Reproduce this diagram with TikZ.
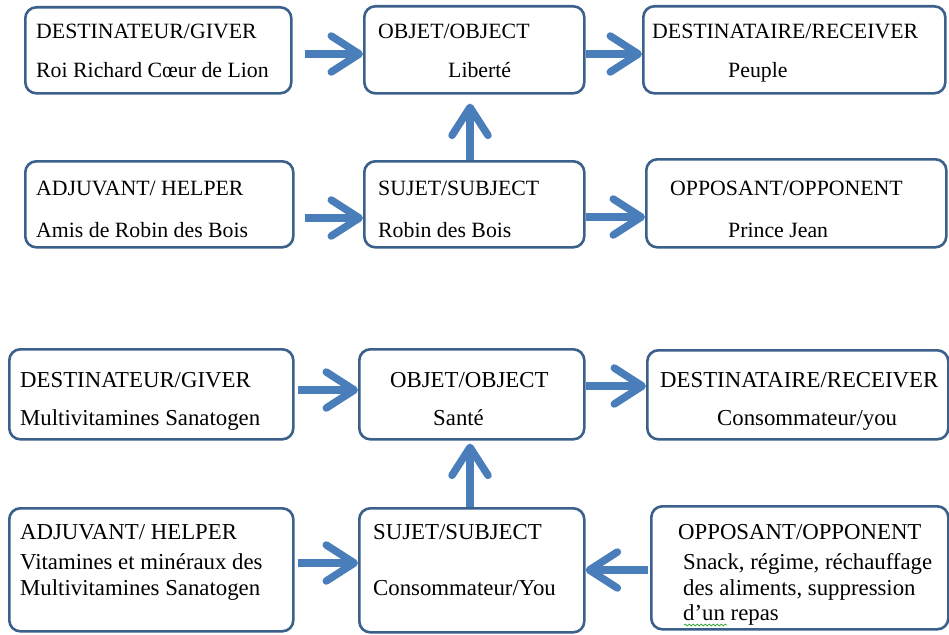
\documentclass[tikz,border=0pt]{standalone}
\usepackage{fontspec}
\setmainfont{Liberation Serif}
\usetikzlibrary{arrows.meta,decorations.pathmorphing}
\definecolor{boxline}{RGB}{60,96,140}
\definecolor{arrowblue}{RGB}{74,126,187}
\definecolor{squig}{RGB}{60,170,60}
\tikzset{
  box/.style={draw=boxline, line width=2.6pt, rounded corners=11pt, anchor=north west, inner sep=0pt, fill=white},
  arr/.style={draw=arrowblue, line width=7.5pt, -{Straight Barb[length=28pt,width=36pt,round]}},
  ta/.style={anchor=base west, inner sep=0pt, font=\fontsize{21.8}{24}\selectfont},
  tb/.style={anchor=base west, inner sep=0pt, font=\fontsize{22.8}{26}\selectfont},
}
\begin{document}
\begin{tikzpicture}[x=1pt,y=-1pt]
\useasboundingbox (0,0) rectangle (949,634);
% ---------- top diagram ----------
\node[box, minimum width=266pt, minimum height=86pt] (g1) at (24,6) {};
\node[box, minimum width=220pt, minimum height=87pt] (o1) at (363,5) {};
\node[box, minimum width=302pt, minimum height=87pt] (r1) at (642,5) {};
\node[box, minimum width=268pt, minimum height=86pt] (h1) at (24,160) {};
\node[box, minimum width=220pt, minimum height=86pt] (s1) at (363,160) {};
\node[box, minimum width=300pt, minimum height=88pt] (p1) at (645,158) {};

\node[ta] (g1a) at (36,38) {DESTINATEUR/GIVER};
\node[ta] (g1b) at (36,77) {Roi Richard Cœur de Lion};
\node[ta] (o1a) at (378,38) {OBJET/OBJECT};
\node[ta] (o1b) at (448,77) {Liberté};
\node[ta] (r1a) at (652,38) {DESTINATAIRE/RECEIVER};
\node[ta] (r1b) at (728,77) {Peuple};
\node[ta] (h1a) at (36,195) {ADJUVANT/ HELPER};
\node[ta] (h1b) at (36,237) {Amis de Robin des Bois};
\node[ta] (s1a) at (378,195) {SUJET/SUBJECT};
\node[ta] (s1b) at (378,237) {Robin des Bois};
\node[ta] (p1a) at (670,195) {OPPOSANT/OPPONENT};
\node[ta] (p1b) at (728,237) {Prince Jean};

\draw[arr] ([xshift=12pt]g1.east |- 0,54) -- (o1.west |- 0,54);
\draw[arr] (o1.east |- 0,54) -- (r1.west |- 0,54);
\draw[arr] ([xshift=10pt]h1.east |- 0,218) -- (s1.west |- 0,218);
\draw[arr] (s1.east |- 0,217) -- (p1.west |- 0,217);
\draw[arr] (s1.north -| 470,0) -- ([yshift=-9pt]o1.south -| 470,0);

% ---------- bottom diagram ----------
\node[box, minimum width=284pt, minimum height=90pt] (g2) at (8,348) {};
\node[box, minimum width=225pt, minimum height=90pt] (o2) at (358,348) {};
\node[box, minimum width=301pt, minimum height=89pt] (r2) at (646,349) {};
\node[box, minimum width=284pt, minimum height=123pt] (h2) at (8,507) {};
\node[box, minimum width=225pt, minimum height=124pt] (s2) at (358,507) {};
\node[box, minimum width=297pt, minimum height=123pt] (p2) at (650,505) {};

\node[tb] (g2a) at (20,387) {DESTINATEUR/GIVER};
\node[tb] (g2b) at (20,425) {Multivitamines Sanatogen};
\node[tb] (o2a) at (390,387) {OBJET/OBJECT};
\node[tb] (o2b) at (433,425) {Santé};
\node[tb] (r2a) at (660,387) {DESTINATAIRE/RECEIVER};
\node[tb] (r2b) at (717,425) {Consommateur/you};
\node[tb] (h2a) at (20,539) {ADJUVANT/ HELPER};
\node[tb] (h2b) at (20,569) {Vitamines et minéraux des};
\node[tb] (h2c) at (20,595) {Multivitamines Sanatogen};
\node[tb] (s2a) at (373,539) {SUJET/SUBJECT};
\node[tb] (s2b) at (373,595) {Consommateur/You};
\node[tb] (p2a) at (678,539) {OPPOSANT/OPPONENT};
\node[tb] (p2b) at (683,569) {Snack, régime, réchauffage};
\node[tb] (p2c) at (683,595) {des aliments, suppression};
\node[tb] (p2d) at (683,620) {d’un repas};
\draw[squig, line width=0.8pt, decorate, decoration={snake, amplitude=0.9pt, segment length=4pt}] (684,625) -- (727,625);

\draw[arr] ([xshift=3pt]g2.east |- 0,390) -- (o2.west |- 0,390);
\draw[arr] (o2.east |- 0,386) -- (r2.west |- 0,386);
\draw[arr] ([xshift=3pt]h2.east |- 0,563) -- (s2.west |- 0,563);
\draw[arr] ([xshift=-2pt]p2.west |- 0,570) -- (s2.east |- 0,570);
\draw[arr] (s2.north -| 470,0) -- ([yshift=-3pt]o2.south -| 470,0);
\end{tikzpicture}
\end{document}
